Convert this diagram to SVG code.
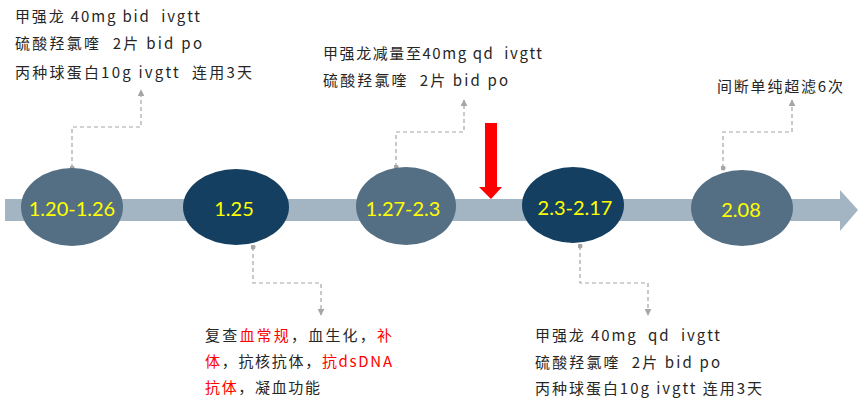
<svg xmlns="http://www.w3.org/2000/svg" width="865" height="408" viewBox="0 0 865 408">
<style>
.t{font-family:"Noto Sans CJK SC","Noto Sans",sans-serif;font-size:15px;fill:#262626;white-space:pre}
.r{fill:#ff0000}
.d{font-family:Lato,"Open Sans","Liberation Sans",sans-serif;font-size:20px;fill:#ffff00;text-anchor:middle}
.lt{fill:#546f84}
.dk{fill:#143f61}
.c{fill:none;stroke:#a6a6a6;stroke-width:1.2;stroke-dasharray:4 3;marker-end:url(#ah);marker-start:url(#dot)}
</style>
<defs>
<marker id="ah" viewBox="0 0 10 10" refX="9" refY="5" markerWidth="7" markerHeight="7" markerUnits="userSpaceOnUse" orient="auto"><path d="M0,0 L10,5 L0,10 Z" fill="#a6a6a6"/></marker>
<marker id="dot" viewBox="0 0 10 10" refX="5" refY="5" markerWidth="5" markerHeight="5" markerUnits="userSpaceOnUse"><circle cx="5" cy="5" r="5" fill="#a6a6a6"/></marker>
</defs>
<rect width="865" height="408" fill="#ffffff"/>
<g id="band"><path d="M5,199 H840 V190 L858,210 L840,231 V221 H5 Z" fill="#a3b5c3"/></g>
<g id="redarrow"><path d="M485,123 H497 V187 H502 L491,199 L479,187 H485 Z" fill="#ff0000"/></g>
<g id="connectors">
<path class="c" d="M72,168 V127 H141 V90"/>
<path class="c" d="M253,247 V283 H321 V315"/>
<path class="c" d="M396,167 V132 H464 V100"/>
<path class="c" d="M580,246 V283 H648 V315"/>
<path class="c" d="M723,168 V132 H792 V100"/>
</g>
<g id="n1"><ellipse class="lt" cx="72" cy="207" rx="51" ry="39"/><text class="d" x="72" y="216">1.20-1.26</text></g>
<g id="n2"><ellipse class="dk" cx="236" cy="207" rx="53" ry="38"/><text class="d" x="234" y="216">1.25</text></g>
<g id="n3"><ellipse class="lt" cx="406" cy="206" rx="50" ry="39"/><text class="d" x="403" y="216">1.27-2.3</text></g>
<g id="n4"><ellipse class="dk" cx="573" cy="205" rx="51" ry="38"/><text class="d" x="575" y="215">2.3-2.17</text></g>
<g id="n5"><ellipse class="lt" cx="742" cy="208" rx="51" ry="38"/><text class="d" x="741" y="217">2.08</text></g>
<g id="note1">
<text class="t" x="15" y="22" textLength="185" lengthAdjust="spacing">甲强龙 40mg bid  ivgtt</text>
<text class="t" x="15" y="49" textLength="187" lengthAdjust="spacing">硫酸羟氯喹  2片 bid po</text>
<text class="t" x="15" y="78" textLength="237" lengthAdjust="spacing">丙种球蛋白10g ivgtt  连用3天</text>
</g>
<g id="note2">
<text class="t" x="323" y="59" textLength="219" lengthAdjust="spacing">甲强龙减量至40mg qd  ivgtt</text>
<text class="t" x="323" y="86" textLength="185" lengthAdjust="spacing">硫酸羟氯喹  2片 bid po</text>
</g>
<g id="note3">
<text class="t" x="717" y="92" textLength="126" lengthAdjust="spacing">间断单纯超滤6次</text>
</g>
<g id="note4">
<text class="t" x="205" y="341" textLength="187" lengthAdjust="spacing">复查<tspan class="r">血常规</tspan>，血生化，<tspan class="r">补</tspan></text>
<text class="t" x="205" y="367" textLength="187" lengthAdjust="spacing"><tspan class="r">体</tspan>，抗核抗体，<tspan class="r">抗dsDNA</tspan></text>
<text class="t" x="205" y="393" textLength="115" lengthAdjust="spacing"><tspan class="r">抗体</tspan>，凝血功能</text>
</g>
<g id="note5">
<text class="t" x="535" y="341" textLength="185" lengthAdjust="spacing">甲强龙 40mg  qd  ivgtt</text>
<text class="t" x="535" y="368" textLength="185" lengthAdjust="spacing">硫酸羟氯喹  2片 bid po</text>
<text class="t" x="535" y="394" textLength="227" lengthAdjust="spacing">丙种球蛋白10g ivgtt 连用3天</text>
</g>
</svg>
